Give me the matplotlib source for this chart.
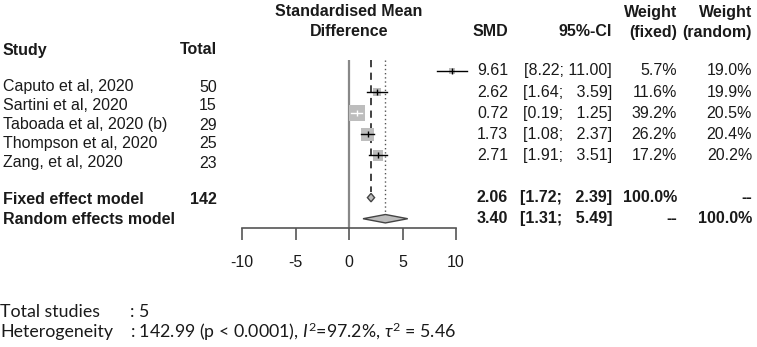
import matplotlib
matplotlib.use("Agg")
import matplotlib.pyplot as plt
from matplotlib.patches import Polygon
from matplotlib import transforms
import numpy as np

# данные из forest plot
studies = ["Caputo et al, 2020", "Sartini et al, 2020", "Taboada et al, 2020 (b)",
           "Thompson et al, 2020", "Zang, et al, 2020"]
totals = [50, 15, 29, 25, 23]
smd = [9.61, 2.62, 0.72, 1.73, 2.71]
ci_lo = [8.22, 1.64, 0.19, 1.08, 1.91]
ci_hi = [11.00, 3.59, 1.25, 2.37, 3.51]
w_fixed = [5.7, 11.6, 39.2, 26.2, 17.2]
w_random = [19.0, 19.9, 20.5, 20.4, 20.2]

fixed_est, fixed_lo, fixed_hi = 2.06, 1.72, 2.39
random_est, random_lo, random_hi = 3.40, 1.31, 5.49
total_n = 142
x_ticks = [-10, -5, 0, 5, 10]

plt.rcParams['font.family'] = ['Liberation Sans', 'DejaVu Sans']
plt.rcParams['axes.unicode_minus'] = False
plt.rcParams['mathtext.fontset'] = 'custom'
plt.rcParams['mathtext.rm'] = 'Lato'
plt.rcParams['mathtext.it'] = 'Lato:italic'

W, H = 757, 347
fig = plt.figure(figsize=(W / 100, H / 100), dpi=100)
fs = 11.5
tc = '#1a1a1a'


def fx(x):
    return x / W


def fy(y):
    return 1 - y / H


# ось forest plot
ax = fig.add_axes([fx(242), fy(228), fx(214), 168 / H])
ax.set_xlim(-10, 10)
ax.set_ylim(7.44, -0.52)
for s in ['top', 'right', 'left']:
    ax.spines[s].set_visible(False)
ax.spines['bottom'].set_color('#555555')
ax.spines['bottom'].set_linewidth(1.2)
ax.set_yticks([])
ax.set_xticks(x_ticks)
ax.set_xticklabels([str(t) for t in x_ticks])
ax.tick_params(axis='x', direction='out', length=8.5, width=1.2, color='#555555',
               labelsize=fs, labelcolor=tc, pad=11)
ax.patch.set_alpha(0)

rows = np.arange(len(studies))
row_fixed = len(studies) + 1
row_random = len(studies) + 2

# линии эффектов
ax.axvline(0, color='#888888', lw=1.6, zorder=1)
ax.plot([fixed_est, fixed_est], [-0.52, row_fixed - 0.25], color='#333333', lw=1.3,
        ls=(0, (4, 3)), zorder=1)
ax.plot([random_est, random_est], [-0.52, row_random - 0.22], color='#555555', lw=1.0,
        ls=(0, (1, 2)), zorder=1)

# квадраты и доверительные интервалы
sizes = 3.4 * np.array(w_fixed)
ax.scatter(smd, rows, marker='s', s=sizes, color='#bdbdbd', linewidths=0, zorder=3, clip_on=False)
units_per_px = 20 / 214
for i in rows:
    box_w = np.sqrt(sizes[i]) * 100 / 72 * units_per_px
    col = 'white' if (ci_hi[i] - ci_lo[i]) < box_w else 'black'
    ax.plot([ci_lo[i], ci_hi[i]], [i, i], color=col, lw=1.0, zorder=4, clip_on=False)
    ax.plot([smd[i]], [i], marker='|', ms=5, mew=1.0, color=col, zorder=5, clip_on=False)

# ромбы
h = 0.2
for est, lo, hi, r in [(fixed_est, fixed_lo, fixed_hi, row_fixed),
                       (random_est, random_lo, random_hi, row_random)]:
    ax.add_patch(Polygon([(lo, r), (est, r - h), (hi, r), (est, r + h)], closed=True,
                         facecolor='#bdbdbd', edgecolor='#444444', lw=1.0, zorder=3))

# заголовки
fig.text(fx(349), fy(12), "Standardised Mean", ha='center', va='center', fontsize=fs,
         fontweight='bold', color=tc)
fig.text(fx(349), fy(32), "Difference", ha='center', va='center', fontsize=fs,
         fontweight='bold', color=tc)
fig.text(fx(3), fy(50), "Study", ha='left', va='center', fontsize=fs, fontweight='bold', color=tc)
fig.text(fx(217), fy(50), "Total", ha='right', va='center', fontsize=fs, fontweight='bold', color=tc)

col_smd, col_ci, col_wf, col_wr = 508, 612, 677, 752
fig.text(fx(col_smd), fy(32), "SMD", ha='right', va='center', fontsize=fs, fontweight='bold', color=tc)
fig.text(fx(col_ci), fy(32), "95%-CI", ha='right', va='center', fontsize=fs, fontweight='bold', color=tc)
fig.text(fx(col_wf), fy(12), "Weight", ha='right', va='center', fontsize=fs, fontweight='bold', color=tc)
fig.text(fx(col_wf), fy(32), "(fixed)", ha='right', va='center', fontsize=fs, fontweight='bold', color=tc)
fig.text(fx(col_wr), fy(12), "Weight", ha='right', va='center', fontsize=fs, fontweight='bold', color=tc)
fig.text(fx(col_wr), fy(32), "(random)", ha='right', va='center', fontsize=fs, fontweight='bold', color=tc)

# левая таблица (строки смещены как на оригинале)
left_y = [87, 106, 125, 144, 163]
for name, n, y in zip(studies, totals, left_y):
    fig.text(fx(3), fy(y), name, ha='left', va='center', fontsize=fs, color=tc)
    fig.text(fx(217), fy(y), str(n), ha='right', va='center', fontsize=fs, color=tc)
fig.text(fx(3), fy(200), "Fixed effect model", ha='left', va='center', fontsize=fs,
         fontweight='bold', color=tc)
fig.text(fx(217), fy(200), str(total_n), ha='right', va='center', fontsize=fs,
         fontweight='bold', color=tc)
fig.text(fx(3), fy(220), "Random effects model", ha='left', va='center', fontsize=fs,
         fontweight='bold', color=tc)

# правая таблица
tr = transforms.blended_transform_factory(fig.transFigure, ax.transData)


def ci_str(lo, hi):
    return "[%.2f; %s]" % (lo, ("%.2f" % hi).rjust(5).replace(' ', '  '))


for i in rows:
    fig.text(fx(col_smd), i, "%.2f" % smd[i], transform=tr, ha='right', va='center', fontsize=fs, color=tc)
    fig.text(fx(col_ci), i, ci_str(ci_lo[i], ci_hi[i]), transform=tr, ha='right', va='center',
             fontsize=fs, color=tc)
    fig.text(fx(col_wf), i, "%.1f%%" % w_fixed[i], transform=tr, ha='right', va='center', fontsize=fs, color=tc)
    fig.text(fx(col_wr), i, "%.1f%%" % w_random[i], transform=tr, ha='right', va='center', fontsize=fs, color=tc)

for est, lo, hi, wf, wr, r in [(fixed_est, fixed_lo, fixed_hi, "100.0%", "--", row_fixed),
                               (random_est, random_lo, random_hi, "--", "100.0%", row_random)]:
    for x, t in [(col_smd, "%.2f" % est), (col_ci, ci_str(lo, hi)), (col_wf, wf), (col_wr, wr)]:
        fig.text(fx(x), r, t, transform=tr, ha='right', va='center', fontsize=fs,
                 fontweight='bold', color=tc)

# гетерогенность
fs2 = 12.8
fig.text(fx(0), fy(312), "Total studies", ha='left', va='center', fontsize=fs2, family='Lato', color=tc)
fig.text(fx(130), fy(312), ": 5", ha='left', va='center', fontsize=fs2, family='Lato', color=tc)
fig.text(fx(0), fy(332), "Heterogeneity", ha='left', va='center', fontsize=fs2, family='Lato', color=tc)
fig.text(fx(130), fy(332), r": 142.99 (p < 0.0001), $I^2$=97.2%, $\tau^2$ = 5.46", ha='left',
         va='center', fontsize=fs2, family='Lato', color=tc)

fig.savefig("out.png", dpi=100, facecolor='white')
